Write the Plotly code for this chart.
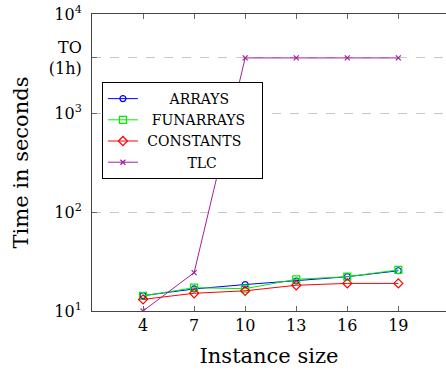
import plotly.graph_objects as go

sizes = [4, 7, 10, 13, 16, 19]
arrays = [14.3, 16.7, 18.5, 20.1, 22.2, 25.5]
funarrays = [14.2, 17.2, 16.8, 20.9, 22.2, 26.0]
constants = [13.1, 15.1, 16.0, 18.2, 19.0, 19.0]
tlc = [10.0, 24.4, 3600, 3600, 3600, 3600]

names = ["ARRAYS", "FUNARRAYS", "CONSTANTS", "TLC"]
y_tickvals = [10, 100, 1000, 3600, 10000]
y_ticktext = ["10<sup>1</sup>", "10<sup>2</sup>", "10<sup>3</sup>", "TO<br>(1h)", "10<sup>4</sup>"]

FONT = "DejaVu Serif"
NB = "\u00a0"
# left padding (in non-breaking spaces) to centre legend labels like the original
pads = [6, 2, 1, 10]

styles = [
    ("#0000ff", "circle-open", 6),
    ("#00ee00", "square-open", 7),
    ("#ff0000", "diamond-open", 7),
    ("#a020a0", "x-thin-open", 5),
]
values = [arrays, funarrays, constants, tlc]

fig = go.Figure()
for name, vals, (col, sym, sz), p in zip(names, values, styles, pads):
    fig.add_trace(go.Scatter(
        x=sizes, y=vals, name=NB * p + name + NB * (p - 1), mode="lines+markers",
        line=dict(color=col, width=1),
        marker=dict(symbol=sym, size=sz, color=col, line=dict(color=col, width=1.2)),
    ))

fig.update_layout(
    width=446, height=374,
    margin=dict(l=92, r=0, t=14, b=63),
    paper_bgcolor="white", plot_bgcolor="white",
    font=dict(family=FONT, color="black", size=16),
    showlegend=True,
    legend=dict(
        x=0.028, y=0.771, xanchor="left", yanchor="top",
        bgcolor="white", bordercolor="black", borderwidth=1,
        font=dict(family=FONT, size=14),
        tracegroupgap=0, itemwidth=30,
    ),
    xaxis=dict(
        range=[1, 21.8], tickvals=sizes, ticktext=[str(s) for s in sizes],
        showline=True, linecolor="#444", linewidth=1, mirror="allticks",
        ticks="inside", ticklen=5, tickcolor="#666",
        showgrid=False, zeroline=False,
        tickfont=dict(size=16),
        title=dict(text="Instance size", font=dict(size=21), standoff=14),
    ),
    yaxis=dict(
        type="log", range=[1, 4],
        tickvals=y_tickvals, ticktext=y_ticktext,
        showline=True, linecolor="#444", linewidth=1, mirror=False,
        ticks="inside", ticklen=5, tickcolor="#666",
        showgrid=True, gridcolor="#c8c8c8", griddash="dash", gridwidth=1,
        zeroline=False,
        tickfont=dict(size=16),
        ticklabelstandoff=6,
        title=dict(text="Time in seconds", font=dict(size=21), standoff=14),
    ),
)

fig.write_html("out.html")
